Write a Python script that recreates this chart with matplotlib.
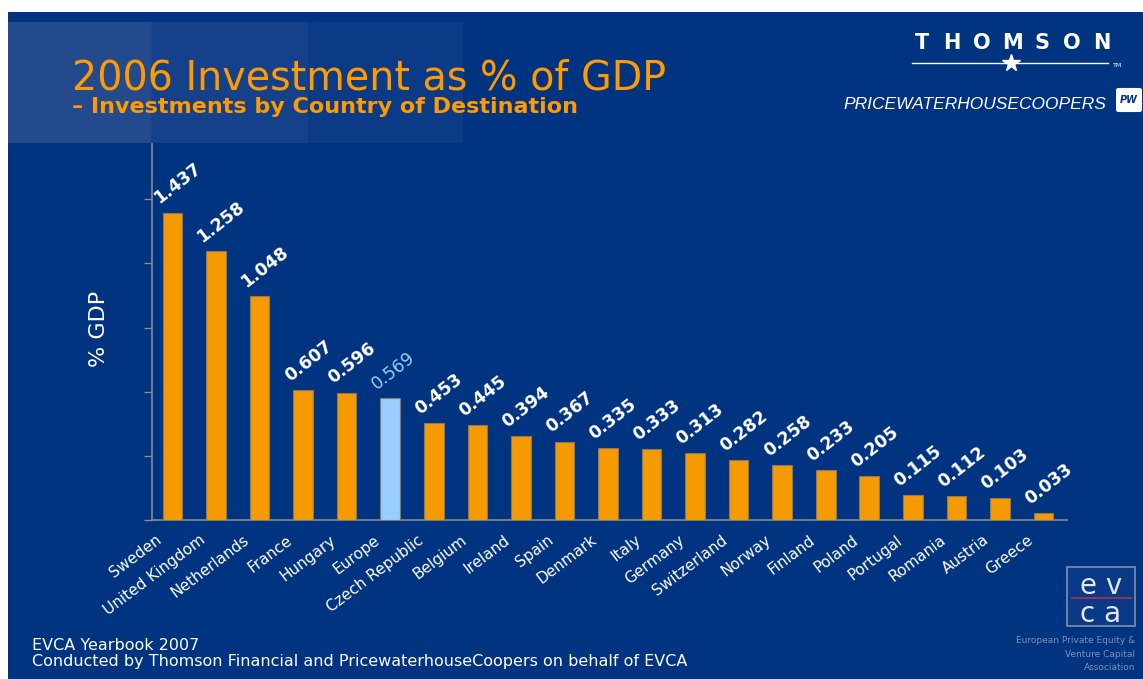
import matplotlib
matplotlib.use('Agg')
import matplotlib.pyplot as plt
from matplotlib.patches import Rectangle, FancyBboxPatch
from matplotlib.lines import Line2D
import matplotlib.transforms as mtransforms

# 2006 investment as % of GDP, by country of destination
countries = ["Sweden", "United Kingdom", "Netherlands", "France", "Hungary", "Europe",
             "Czech Republic", "Belgium", "Ireland", "Spain", "Denmark", "Italy",
             "Germany", "Switzerland", "Norway", "Finland", "Poland", "Portugal",
             "Romania", "Austria", "Greece"]
pct_gdp = [1.437, 1.258, 1.048, 0.607, 0.596, 0.569, 0.453, 0.445, 0.394, 0.367,
           0.335, 0.333, 0.313, 0.282, 0.258, 0.233, 0.205, 0.115, 0.112, 0.103, 0.033]
highlight = "Europe"

W, H = 1143, 679
NAVY = '#003380'
ORANGE = '#F59A00'
LIGHT_BLUE = '#99CCFF'
TITLE_ORANGE = '#FF9A00'


def fx(px):
    return px / W


def fy(py):
    return 1 - py / H


fig = plt.figure(figsize=(W / 100, H / 100), dpi=100)
fig.patch.set_facecolor('white')

# slide background and the translucent header panels
fig.add_artist(Rectangle((fx(8), 0), 1 - fx(8), fy(12), transform=fig.transFigure,
                         facecolor=NAVY, edgecolor='none', zorder=0))
for x0, x1, c in [(8, 151, '#234a8c'), (151, 308, '#15418a'), (308, 463, '#0b3a87')]:
    fig.add_artist(Rectangle((fx(x0), fy(143)), fx(x1 - x0), (143 - 22) / H,
                             transform=fig.transFigure, facecolor=c,
                             edgecolor='none', zorder=0.5))

ax = fig.add_axes([fx(152), fy(520), fx(1067 - 152), (520 - 135) / H])
ax.set_facecolor('none')

x = range(len(countries))
colors = [LIGHT_BLUE if c == highlight else ORANGE for c in countries]
bars = ax.bar(x, pct_gdp, width=0.45, color=colors, edgecolor='#8c7a5a', linewidth=0.8,
              zorder=3)

ax.set_xlim(-0.47, 20.54)
ax.set_ylim(0, 1.8)
ax.set_yticks([0, 0.3, 0.6, 0.9, 1.2, 1.5])
ax.set_yticklabels([])
ax.tick_params(axis='y', colors='#8a8a8a', length=6, width=1)
ax.tick_params(axis='x', length=0, pad=6)
for s in ['top', 'right']:
    ax.spines[s].set_visible(False)
for s in ['left', 'bottom']:
    ax.spines[s].set_color('#8a8a8a')
    ax.spines[s].set_linewidth(1.2)

ax.set_xticks(list(x))
ax.set_xticklabels(countries, rotation=37, ha='right', rotation_mode='anchor',
                   color='white', fontsize=11)
shift = mtransforms.ScaledTranslation(-17 / 100, -4 / 100, fig.dpi_scale_trans)
for lbl in ax.get_xticklabels():
    lbl.set_transform(lbl.get_transform() + shift)

# value labels above each bar
for i, v in enumerate(pct_gdp):
    is_hl = countries[i] == highlight
    ax.annotate(f"{v:.3f}", (i, v), xytext=(-11, 5), textcoords='offset pixels',
                rotation=38, rotation_mode='anchor', ha='left', va='bottom',
                fontsize=12.5, fontweight='normal' if is_hl else 'bold',
                color=LIGHT_BLUE if is_hl else 'white', zorder=4)

fig.text(fx(99), fy(329), "% GDP", rotation=90, color='white', fontsize=16,
         ha='center', va='center')

# title
fig.text(fx(72), fy(89), "2006 Investment as % of GDP", color=TITLE_ORANGE,
         fontsize=28.5, ha='left', va='baseline')
fig.text(fx(72), fy(113), "\u2013 Investments by Country of Destination",
         color=TITLE_ORANGE, fontsize=16, fontweight='bold', ha='left', va='baseline')

# Thomson / PwC logos
for i, ch in enumerate("THOMSON"):
    fig.text(fx(922 + i * 30), fy(49), ch, color='white', fontsize=15,
             fontweight='heavy', ha='center', va='baseline')
fig.add_artist(Line2D([fx(912), fx(1108)], [fy(63), fy(63)], transform=fig.transFigure,
                      color='white', lw=1))
fig.add_artist(Line2D([fx(1011)], [fy(63)], transform=fig.transFigure, marker='*',
                      markersize=13, color='white', markeredgecolor='white'))
fig.text(fx(1113), fy(67), "TM", color='white', fontsize=4.5, ha='left', va='baseline')
fig.text(fx(843), fy(109), "PRICEWATERHOUSECOOPERS", color='white', fontsize=12.5,
         family='Liberation Sans', style='italic', ha='left', va='baseline')
fig.add_artist(FancyBboxPatch((fx(1119), fy(110)), fx(20), 20 / H,
                              boxstyle='round,pad=0.002', transform=fig.transFigure,
                              facecolor='white', edgecolor='white'))
fig.text(fx(1129), fy(100), "PW", color=NAVY, fontsize=7, fontweight='bold',
         style='italic', ha='center', va='center')

# EVCA logo
fig.add_artist(Rectangle((fx(1067), fy(626)), fx(68), (626 - 567) / H,
                         transform=fig.transFigure, facecolor='#0a3a86',
                         edgecolor='#8090b0', lw=1.2))
fig.add_artist(Line2D([fx(1072), fx(1131)], [fy(598), fy(598)], transform=fig.transFigure,
                      color='#b03050', lw=1.2))
fig.text(fx(1101), fy(594), "e v", color='#e0e6f0', fontsize=20, ha='center',
         va='baseline')
fig.text(fx(1101), fy(622), "c a", color='#e0e6f0', fontsize=20, ha='center',
         va='baseline')
for yy, line in [(643, "European Private Equity &"), (657, "Venture Capital"),
                 (670, "Association")]:
    fig.text(fx(1135), fy(yy), line, color='#8090b5', fontsize=6.5, ha='right',
             va='baseline')

# source note
fig.text(fx(32), fy(650), "EVCA Yearbook 2007", color='white', fontsize=11.5,
         ha='left', va='baseline')
fig.text(fx(32), fy(666),
         "Conducted by Thomson Financial and PricewaterhouseCoopers on behalf of EVCA",
         color='white', fontsize=11.5, ha='left', va='baseline')

fig.savefig('out.png', dpi=100, facecolor=fig.get_facecolor())
